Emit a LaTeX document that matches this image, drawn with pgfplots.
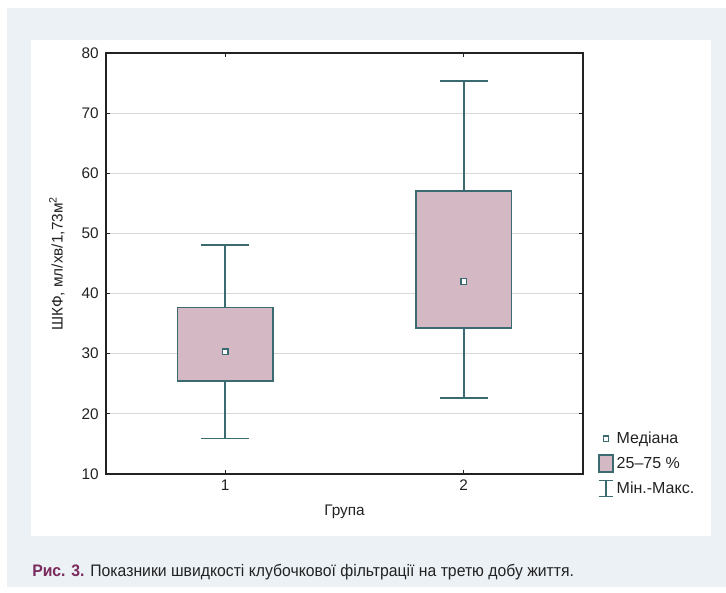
\documentclass[border=0pt]{standalone}
\usepackage{fontspec}
\setmainfont{Liberation Sans}
\newfontfamily\capfont[FakeStretch=0.945]{Liberation Sans}
\usepackage{pgfplots}
\pgfplotsset{compat=1.18}
\definecolor{bgc}{HTML}{ECF1F5}
\definecolor{boxfill}{HTML}{D4B9C5}
\definecolor{edgec}{HTML}{3B6A70}
\definecolor{gridc}{HTML}{D8D8D8}
\definecolor{txtc}{HTML}{222222}
\definecolor{capred}{HTML}{7A2A5C}
\begin{document}
\begin{tikzpicture}
\begin{scope}[x=0.75pt,y=-0.75pt,shift={(-79.5pt,355.5pt)}]
\useasboundingbox (0,0) rectangle (726,593);
\fill[white] (0,0) rectangle (726,593);
\fill[bgc] (7,8) rectangle (726,587);
\fill[white] (31,40) rectangle (711,536);
\node[anchor=base west, inner sep=0pt, font=\capfont\fontsize{12.5pt}{14pt}\selectfont, text=txtc] at (32,577)
 {\textcolor{capred}{\textbf{Рис. 3.}} Показники швидкості клубочкової фільтрації на третю добу життя.};
\end{scope}
\begin{axis}[
  at={(0,0)}, anchor=south west,
  scale only axis, width=357.75pt, height=315.75pt,
  xmin=0.5, xmax=2.5, ymin=10, ymax=80,
  xtick={1,2}, ytick={10,20,...,80},
  tick align=inside, major tick length=3pt,
  tick style={txtc, line width=0.9pt},
  axis line style={txtc, line width=1.1pt},
  ymajorgrids, grid style={gridc, line width=0.9pt},
  font=\fontsize{11.5pt}{13pt}\selectfont,
  ticklabel style={text=txtc},
  /pgf/number format/assume math mode=true,
  yticklabel style={xshift=-2pt},
  xticklabel style={yshift=-1pt},
  xlabel={Група}, ylabel={ШКФ, мл/хв/1,73м\textsuperscript{2}},
  xlabel style={at={(axis description cs:0.5,0)}, anchor=center, yshift=-28.5pt, text=txtc},
  ylabel style={at={(axis description cs:-0.103,0.5)}, anchor=center, text=txtc},
  legend style={at={(axis description cs:1,0.113)}, anchor=north west, xshift=8pt, draw=none, fill=none,
    row sep=4.6pt, font=\fontsize{12pt}{13pt}\selectfont, text=txtc,
    /tikz/every even column/.append style={column sep=6pt}},
  legend cell align=left,
  unbounded coords=jump,
]
% whiskers (vertical lines and caps)
\addplot[draw=edgec, line width=1.3pt, forget plot] coordinates {
  (1,37.7) (1,48.1) (nan,nan) (0.9,48.1) (1.1,48.1) (nan,nan)
  (1,25.5) (1,15.9) (nan,nan) (0.9,15.9) (1.1,15.9) (nan,nan)
  (2,57.0) (2,75.3) (nan,nan) (1.9,75.3) (2.1,75.3) (nan,nan)
  (2,34.3) (2,22.6) (nan,nan) (1.9,22.6) (2.1,22.6)};
% boxes (25-75 %)
\addplot[draw=edgec, fill=boxfill, line width=1.3pt, forget plot] coordinates {
  (0.8,25.5) (1.2,25.5) (1.2,37.7) (0.8,37.7)} -- cycle;
\addplot[draw=edgec, fill=boxfill, line width=1.3pt, forget plot] coordinates {
  (1.8,34.3) (2.2,34.3) (2.2,57.0) (1.8,57.0)} -- cycle;
% medians
\addplot[only marks, mark=square*, mark size=2.1pt, mark options={draw=edgec, fill=white, line width=1.1pt}, forget plot]
  coordinates {(1,30.3) (2,42.0)};
\addlegendimage{legend image code/.code={
  \path[draw=none, fill=none] (0pt,-6pt) rectangle (11pt,6pt);
  \draw[draw=edgec, fill=white, line width=1.1pt] (3.5pt,-2pt) rectangle (7.5pt,2pt);}}
\addlegendentry{Медіана}
\addlegendimage{legend image code/.code={
  \draw[draw=edgec, fill=boxfill, line width=1.3pt] (0.5pt,-6.3pt) rectangle (10.5pt,6.3pt);}}
\addlegendentry{25–75 \%}
\addlegendimage{legend image code/.code={
  \draw[draw=edgec, line width=1.1pt] (0pt,6pt) -- (11pt,6pt) (5.5pt,6pt) -- (5.5pt,-6pt) (0pt,-6pt) -- (11pt,-6pt);}}
\addlegendentry{Мін.-Макс.}
\end{axis}
\end{tikzpicture}
\end{document}
